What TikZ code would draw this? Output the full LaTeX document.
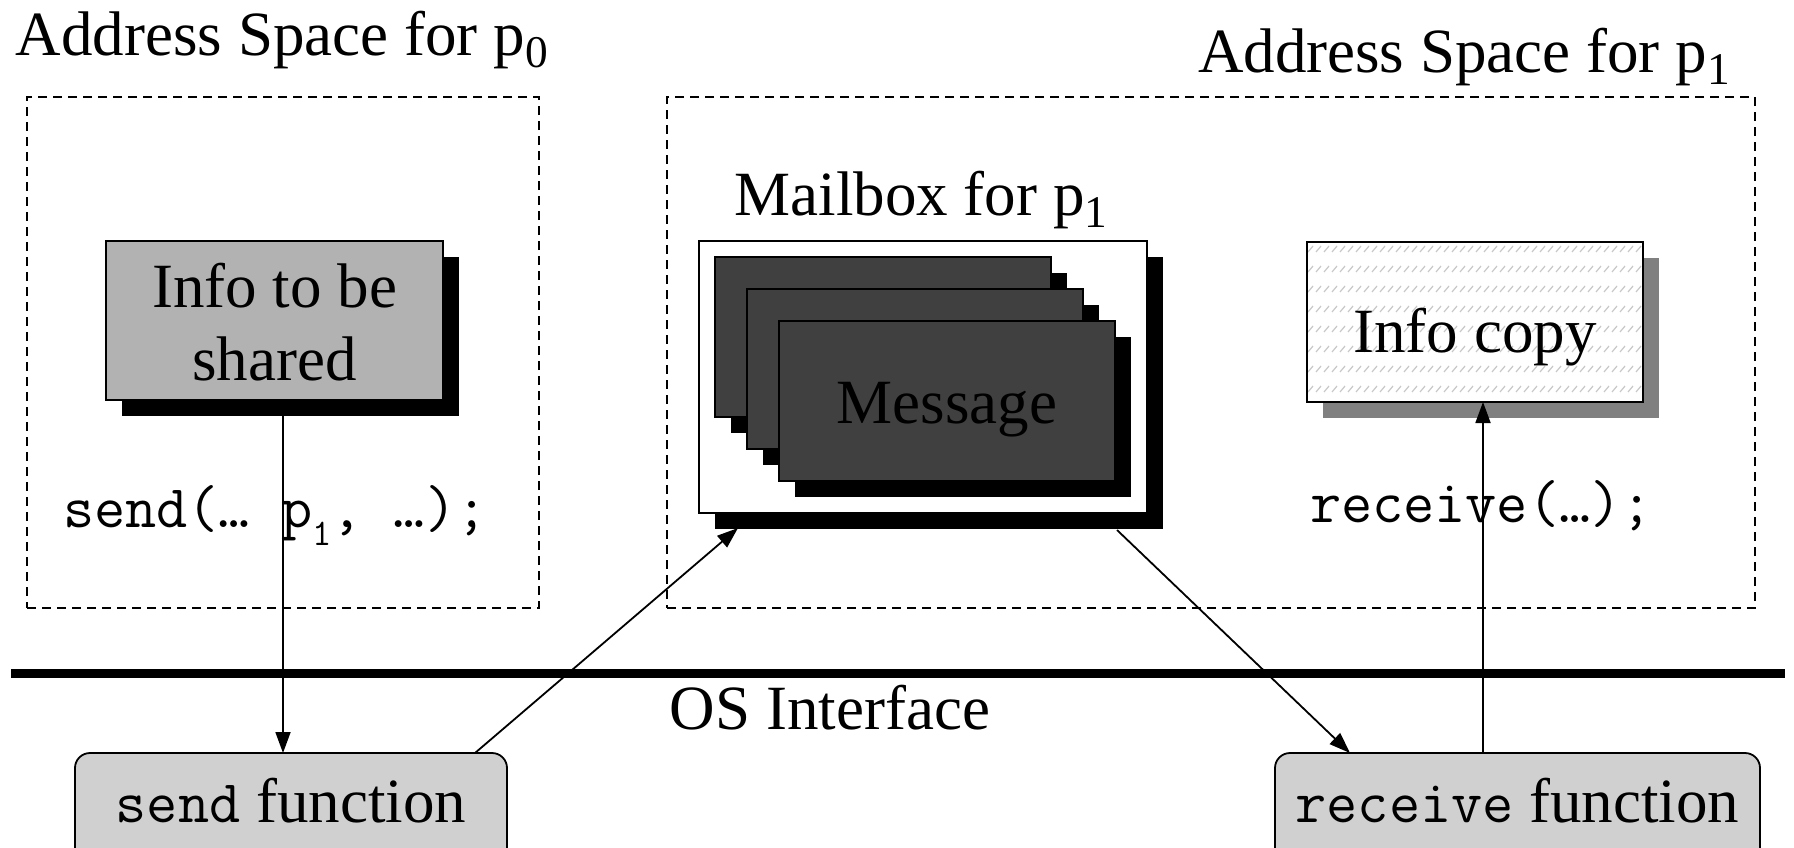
\documentclass[tikz,border=0pt]{standalone}
\usepackage{fontspec}
\setmainfont{Liberation Serif}
\newcommand\cour{\ttfamily}
\usetikzlibrary{arrows.meta,shadows}
\definecolor{infogray}{HTML}{B2B2B2}
\definecolor{msggray}{HTML}{404040}
\definecolor{fngray}{HTML}{D0D0D0}
\definecolor{shgray}{HTML}{808080}
\definecolor{hatchgray}{HTML}{C8C8C8}
\newcommand\psub[1]{\raisebox{-0.2em}{\scalebox{0.72}{#1}}}
\newcommand\msub[1]{\raisebox{-0.3em}{\scalebox{0.62}{#1}}}
\begin{document}
\begin{tikzpicture}[x=1pt,y=-1pt,
  big/.style={font=\fontsize{63}{73}\selectfont, inner sep=0pt, outer sep=0pt},
  code/.style={font=\cour\fontsize{60.5}{68}\selectfont, inner sep=0pt, outer sep=0pt},
  area/.style={draw, dash pattern=on 9pt off 6pt, line width=1.5pt, inner sep=0pt, outer sep=0pt},
  rect/.style={draw, line width=1.5pt, inner sep=0pt, outer sep=0pt},
  blackshadow/.style={general shadow={fill=black, shadow xshift=16pt, shadow yshift=-16pt}},
  grayshadow/.style={general shadow={fill=shgray, shadow xshift=16pt, shadow yshift=-16pt}},
  fbox/.style={draw, fill=fngray, rounded corners=15pt, line width=1.8pt, inner sep=0pt, outer sep=0pt,
    font=\fontsize{63}{73}\selectfont, text height=43pt, text depth=15pt},
  arr/.style={line width=1.8pt, -{Triangle[length=21pt,width=15pt]}},
  hatchline/.style={draw=hatchgray, line width=1.2pt}
]
\useasboundingbox (0,0) rectangle (1794,847);

% address spaces
\node[area, minimum width=512, minimum height=511, anchor=north west] (as0) at (27,97) {};
\node[area, minimum width=1088, minimum height=511, anchor=north west] (as1) at (667,97) {};
\node[big, anchor=base west] (t0) at (16,55) {Address Space for p\psub{0}};
\node[big, anchor=base west] (t1) at (1198,72) {Address Space for p\psub{1}};

% info to be shared
\node[rect, fill=infogray, blackshadow, minimum width=337, minimum height=159] (info) at (274.5,320.5) {};
\node[big, align=center] (infotext) at (274.5,322) {Info to be\\shared};
\node[code, anchor=base west] (sendcode) at (63,527) {send(… p\msub{1}, …);};

% mailbox
\node[big, anchor=base] (mtitle) at (921,215) {Mailbox for p\psub{1}};
\node[rect, fill=white, blackshadow, minimum width=448, minimum height=272] (mbox) at (923,377) {};
\node[rect, fill=msggray, blackshadow, minimum width=336, minimum height=160] (m1) at (883,337) {};
\node[rect, fill=msggray, blackshadow, minimum width=336, minimum height=160] (m2) at (915,369) {};
\node[rect, fill=msggray, blackshadow, minimum width=336, minimum height=160] (m3) at (947,401) {};
\node[big, anchor=base] (msgtext) at (947,423) {Message};

% info copy
\node[rect, draw=none, fill=white, grayshadow, minimum width=336, minimum height=160] (copy) at (1475,322) {};
\begin{scope}
\clip (copy.north west) rectangle (copy.south east);
\foreach \r in {0,...,7} {
  \foreach \c in {0,...,42} {
    \draw[hatchline] ({1300+\c*8},{252+\r*20}) -- ++(5,-6);
  }
}
\end{scope}
\draw[line width=1.5pt] (copy.north west) rectangle (copy.south east);
\node[big, anchor=base] (copytext) at (1475,352) {Info copy};
\node[code, anchor=base west] (recvcode) at (1310,522) {receive(…);};

% OS interface
\coordinate (osl) at (11,673);
\coordinate (osr) at (1785,673);
\draw[line width=9pt] (osl) -- (osr);
\node[big, anchor=base] (os) at (830,729) {OS Interface};

% function boxes
\node[fbox, minimum width=432, minimum height=110, anchor=north west] (sendf) at (75,753) {{\cour\fontsize{60.5}{68}\selectfont send} function};
\node[fbox, minimum width=485, minimum height=110, anchor=north west] (recvf) at (1275,753) {{\cour\fontsize{60.5}{68}\selectfont receive} function};

% connectors
\coordinate (sx) at (283,0);
\coordinate (rx) at (1483,0);
\coordinate (s2m) at (475,0);
\coordinate (m2r) at (1350,0);
\coordinate (mbin) at (738,528);
\coordinate (mbout) at (1117,530);
\draw[arr] (info.south -| sx) -- (sendf.north -| sx);
\draw[arr] (sendf.north -| s2m) -- (mbin);
\draw[arr] (mbout) -- (recvf.north -| m2r);
\draw[arr] (recvf.north -| rx) -- (copy.south -| rx);
\end{tikzpicture}
\end{document}
